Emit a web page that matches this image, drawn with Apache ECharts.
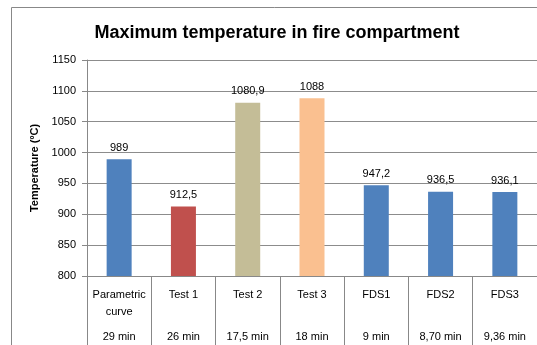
<!DOCTYPE html>
<html><head><meta charset="utf-8">
<script src="https://cdn.jsdelivr.net/npm/echarts@6/dist/echarts.min.js"></script>
<style>html,body{margin:0;padding:0;background:#fff}#c{width:537px;height:345px}</style>
</head><body><div id="c"></div>
<script>
const categories = ['Parametric\ncurve', 'Test 1', 'Test 2', 'Test 3', 'FDS1', 'FDS2', 'FDS3'];
const times = ['29 min', '26 min', '17,5 min', '18 min', '9 min', '8,70 min', '9,36 min'];
const values = [989, 912.5, 1080.9, 1088, 947.2, 936.5, 936.1];
const barColors = ['#4f81bd', '#c0504d', '#c4bd97', '#fac090', '#4f81bd', '#4f81bd', '#4f81bd'];
const yTicks = { min: 800, max: 1150, interval: 50 };

const font = 'Liberation Sans';
const chart = echarts.init(document.getElementById('c'));
chart.setOption({
  animation: false,
  textStyle: { fontFamily: font },
  title: {
    text: 'Maximum temperature in fire compartment',
    left: 272, top: 19, textAlign: 'center',
    textStyle: { fontSize: 18, fontWeight: 'bold', color: '#000', fontFamily: font }
  },
  graphic: [
    { type: 'line', shape: { x1: 11.5, y1: 7.5, x2: 537, y2: 7.5 }, style: { stroke: '#888', lineWidth: 1 } },
    { type: 'line', shape: { x1: 11.5, y1: 7.5, x2: 11.5, y2: 345 }, style: { stroke: '#888', lineWidth: 1 } }
  ],
  grid: { left: 87, right: 0, top: 60, bottom: 69, containLabel: false },
  xAxis: [
    {
      type: 'category', data: categories, position: 'bottom',
      axisLine: { lineStyle: { color: '#888' } },
      axisTick: { show: true, interval: 0, length: 75, lineStyle: { color: '#888' } },
      axisLabel: { interval: 0, color: '#000', fontSize: 11, lineHeight: 17, margin: 10, align: 'center', fontFamily: font, verticalAlign: 'top' }
    },
    {
      type: 'category', data: times, position: 'bottom', offset: 0,
      axisLine: { show: false }, axisTick: { show: false },
      axisLabel: { interval: 0, color: '#000', fontSize: 11, margin: 55, fontFamily: font, verticalAlign: 'top' }
    }
  ],
  yAxis: {
    type: 'value', min: yTicks.min, max: yTicks.max, interval: yTicks.interval,
    name: 'Temperature (ºC)', nameLocation: 'middle', nameGap: 40,
    nameTextStyle: { fontWeight: 'bold', fontSize: 11, color: '#000', fontFamily: font },
    axisLine: { show: true, lineStyle: { color: '#888' } },
    axisTick: { show: true, length: 5, lineStyle: { color: '#888' } },
    axisLabel: { color: '#000', fontSize: 11, margin: 11, fontFamily: font, formatter: v => String(v) },
    splitLine: { lineStyle: { color: '#8c8c8c' } }
  },
  series: [{
    type: 'bar', xAxisIndex: 0, barWidth: 25,
    data: values.map((v, i) => ({ value: v, itemStyle: { color: barColors[i] } })),
    label: {
      show: true, position: 'top', distance: 6, color: '#000', fontSize: 11, fontFamily: font,
      formatter: p => String(p.value).replace('.', ',')
    }
  }]
});
</script></body></html>
